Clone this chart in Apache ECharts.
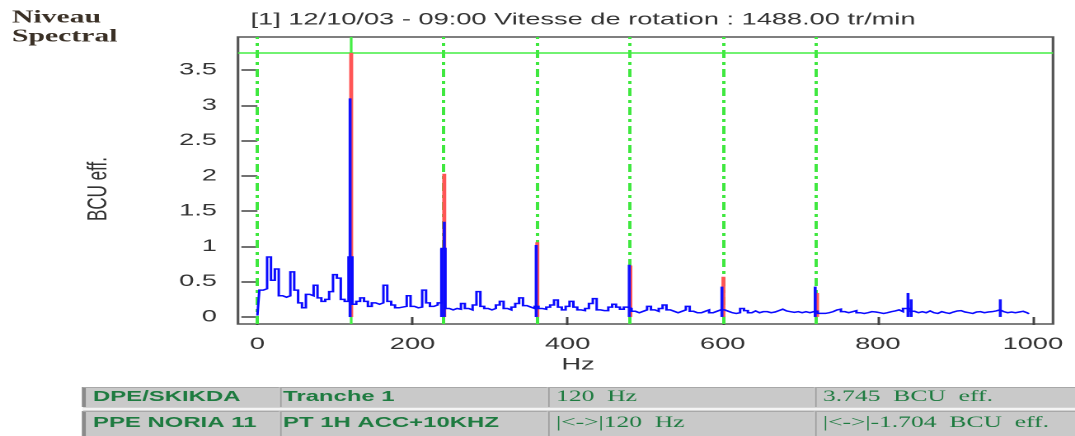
<!DOCTYPE html>
<html>
<head>
<meta charset="utf-8">
<script src="https://cdn.jsdelivr.net/npm/echarts@6/dist/echarts.min.js"></script>
<style>
html, body { margin: 0; padding: 0; background: #fff; overflow: hidden; }
#wrap { width: 1075px; height: 436px; overflow: hidden; }
/* the source picture is stretched sideways, so the chart is drawn narrow and widened */
#chart { width: 652px; height: 436px; transform: scaleX(1.6488); transform-origin: 0 0; }
</style>
</head>
<body>
<div id="wrap"><div id="chart"></div></div>
<script>
// spectrum, one value every 5 Hz from 0 to 995 Hz (BCU eff.)
var stepHz = 5;
var bcu = [
  0.02, 0.38, 0.40, 0.85, 0.52, 0.68, 0.30, 0.28, 0.30, 0.64, 0.38, 0.20, 0.13, 0.32, 0.30, 0.45, 0.27, 0.22, 0.25, 0.36,
  0.60, 0.55, 0.25, 0.22, 0.85, 0.18, 0.22, 0.27, 0.22, 0.15, 0.20, 0.18, 0.20, 0.45, 0.22, 0.17, 0.13, 0.14, 0.15, 0.30,
  0.15, 0.13, 0.14, 0.38, 0.20, 0.15, 0.17, 0.20, 0.97, 0.12, 0.10, 0.12, 0.11, 0.19, 0.12, 0.10, 0.17, 0.36, 0.15, 0.12,
  0.10, 0.12, 0.17, 0.22, 0.12, 0.10, 0.14, 0.19, 0.27, 0.16, 0.14, 0.12, 0.15, 0.12, 0.11, 0.14, 0.17, 0.24, 0.14, 0.10,
  0.15, 0.22, 0.14, 0.10, 0.09, 0.12, 0.19, 0.26, 0.10, 0.09, 0.09, 0.14, 0.18, 0.14, 0.11, 0.14, 0.12, 0.08, 0.06, 0.08,
  0.10, 0.15, 0.10, 0.08, 0.12, 0.17, 0.10, 0.08, 0.06, 0.08, 0.10, 0.15, 0.08, 0.06, 0.06, 0.08, 0.10, 0.06, 0.08, 0.10,
  0.10, 0.08, 0.06, 0.05, 0.06, 0.12, 0.09, 0.06, 0.085, 0.06, 0.075, 0.075, 0.06, 0.07, 0.09, 0.11, 0.085, 0.075, 0.065, 0.075,
  0.06, 0.075, 0.06, 0.075, 0.08, 0.05, 0.05, 0.06, 0.075, 0.10, 0.11, 0.075, 0.06, 0.075, 0.09, 0.06, 0.05, 0.06, 0.075, 0.07,
  0.06, 0.05, 0.06, 0.075, 0.085, 0.10, 0.075, 0.12, 0.12, 0.08, 0.06, 0.075, 0.06, 0.085, 0.06, 0.05, 0.075, 0.06, 0.05, 0.07,
  0.085, 0.09, 0.07, 0.06, 0.05, 0.07, 0.075, 0.06, 0.07, 0.075, 0.085, 0.10, 0.075, 0.06, 0.07, 0.06, 0.07, 0.08, 0.06, 0.045
];

// narrow spectral lines drawn over the trace
var blueHz  = [119.5, 237.5, 241, 359.5, 479.5, 599, 719.3, 839, 843, 958];
var blueBcu = [3.10, 0.97, 1.35, 1.02, 0.74, 0.43, 0.43, 0.34, 0.25, 0.25];
var redHz   = [120.3, 240.3, 360.3, 480.3, 600.3, 721];
var redBcu  = [3.745, 2.03, 1.06, 0.73, 0.57, 0.34];

// harmonic markers (dash-dot) and cursor
var harmonicHz = [0, 240, 360, 480, 600, 720];
var cursorHz = 120;
var cursorBcu = 3.745;

var xTicks = [0, 200, 400, 600, 800, 1000];
var yTicks = [0, 0.5, 1, 1.5, 2, 2.5, 3, 3.5];

var titleText = '[1] 12/10/03 - 09:00 Vitesse de rotation : 1488.00 tr/min';
var tableRows = [
  ['DPE/SKIKDA', 'Tranche 1', '120  Hz', '3.745  BCU  eff.'],
  ['PPE NORIA 11', 'PT 1H ACC+10KHZ', '|<->|120  Hz', '|<->|-1.704  BCU  eff.']
];

var S = 1075 / 652;
function X(px) { return px / S; }

var sans = "'Liberation Sans', Arial, sans-serif";
var serif = "'Liberation Serif', 'Times New Roman', serif";
var green = '#1e7b40';

var spectrum = bcu.map(function (v, i) { return [i * stepHz, v]; });

// bottom info table
var colL = [83, 280, 548, 815], colR = [279, 547, 814, 1075];
var rowT = [387, 411], rowB = [407, 436], rowMid = [397, 423];
var graphics = [];
graphics.push({ type: 'rect', shape: { x: X(83), y: 387, width: X(1075 - 83), height: 49 }, style: { fill: '#d4d4d4' } });
tableRows.forEach(function (row, r) {
  row.forEach(function (txt, c) {
    graphics.push({ type: 'rect', shape: { x: X(colL[c]), y: rowT[r], width: X(colR[c] - colL[c]), height: rowB[r] - rowT[r] },
      style: { fill: '#c9c9c9' } });
    graphics.push({ type: 'line', shape: { x1: X(colL[c]) + 0.5, y1: rowT[r], x2: X(colL[c]) + 0.5, y2: rowB[r] },
      style: { stroke: c === 0 ? '#8a8a8a' : '#a0a0a0', lineWidth: c === 0 ? 2.4 : 1 } });
    graphics.push({ type: 'line', shape: { x1: X(colL[c]), y1: rowT[r] + 0.5, x2: X(colR[c]), y2: rowT[r] + 0.5 },
      style: { stroke: '#a8a8a8', lineWidth: 1 } });
    var bold = c < 2;
    graphics.push({ type: 'text', x: X(colL[c] + (c === 0 ? 10 : (c === 1 ? 3 : 8))), y: rowMid[r],
      style: { text: txt, fill: green, font: (bold ? 'bold 14.5px ' + sans : '15.5px ' + serif),
        align: 'left', verticalAlign: 'middle' } });
  });
});
graphics.push({ type: 'line', shape: { x1: X(83), y1: 409, x2: X(1075), y2: 409 }, style: { stroke: '#f4f4f4', lineWidth: 2 } });

// titles
graphics.push({ type: 'text', x: X(12), y: 18, style: { text: 'Niveau', font: 'bold 18px ' + serif, fill: '#3a3026', align: 'left', verticalAlign: 'middle' } });
graphics.push({ type: 'text', x: X(12), y: 37, style: { text: 'Spectral', font: 'bold 18px ' + serif, fill: '#3a3026', align: 'left', verticalAlign: 'middle' } });
graphics.push({ type: 'text', x: X(583), y: 20, style: { text: titleText, font: '16.5px ' + sans, fill: '#333', align: 'center', verticalAlign: 'middle' } });
graphics.push({ type: 'text', x: X(99), y: 189, rotation: Math.PI / 2, style: { text: 'BCU eff.', font: '17px ' + sans, fill: '#333', align: 'center', verticalAlign: 'middle' } });
graphics.push({ type: 'text', x: X(578), y: 365, style: { text: 'Hz', font: '16.5px ' + sans, fill: '#333', align: 'center', verticalAlign: 'middle' } });

var dashDot = { color: '#3fe83f', width: 2, type: [8, 4, 3, 4] };
var cursorStyle = { color: '#44ee44', width: 1.6, type: 'solid' };

var chart = echarts.init(document.getElementById('chart'), null, { renderer: 'canvas', devicePixelRatio: 2 });
chart.setOption({
  animation: false,
  backgroundColor: '#fff',
  grid: { left: X(238), right: 652 - X(1053), top: 37, bottom: 436 - 324, show: true, borderColor: '#555', borderWidth: 1.6 },
  xAxis: {
    type: 'value', min: -25, max: 1026,
    axisLine: { show: false },
    axisTick: { show: true, length: 8, customValues: xTicks, lineStyle: { color: '#444', width: 1.5 } },
    axisLabel: { customValues: xTicks, margin: 12, color: '#333', fontSize: 16.5, fontFamily: sans,
      formatter: function (v) { return String(v); } },
    splitLine: { show: false }
  },
  yAxis: {
    type: 'value', min: -0.1, max: 3.97,
    axisLine: { show: false },
    axisTick: { show: true, length: X(16), customValues: yTicks, lineStyle: { color: '#444', width: 1.5 } },
    axisLabel: { customValues: yTicks, margin: X(21), color: '#333', fontSize: 16.5, fontFamily: sans },
    splitLine: { show: false }
  },
  graphic: graphics,
  series: [
    {
      type: 'line', data: [], z: 1, silent: true,
      markLine: {
        z: 1, silent: true, symbol: ['none', 'none'], label: { show: false },
        data: harmonicHz.map(function (h) { return { xAxis: h, lineStyle: dashDot }; })
          .concat([{ xAxis: cursorHz, lineStyle: cursorStyle }, { yAxis: cursorBcu, lineStyle: cursorStyle }])
      }
    },
    {
      type: 'bar', z: 3, barWidth: 2.4, barGap: '-100%', silent: true,
      itemStyle: { color: '#ff5555' },
      data: redHz.map(function (f, i) { return [f, redBcu[i]]; })
    },
    {
      type: 'bar', z: 4, barWidth: 1.8, barGap: '-100%', silent: true,
      itemStyle: { color: '#1010ff' },
      data: blueHz.map(function (f, i) { return [f, blueBcu[i]]; })
    },
    {
      type: 'line', z: 5, step: 'middle', smooth: false, showSymbol: false, silent: true,
      lineStyle: { color: '#0a0aff', width: 1.5, join: 'miter' },
      data: spectrum
    }
  ]
});
</script>
</body>
</html>
